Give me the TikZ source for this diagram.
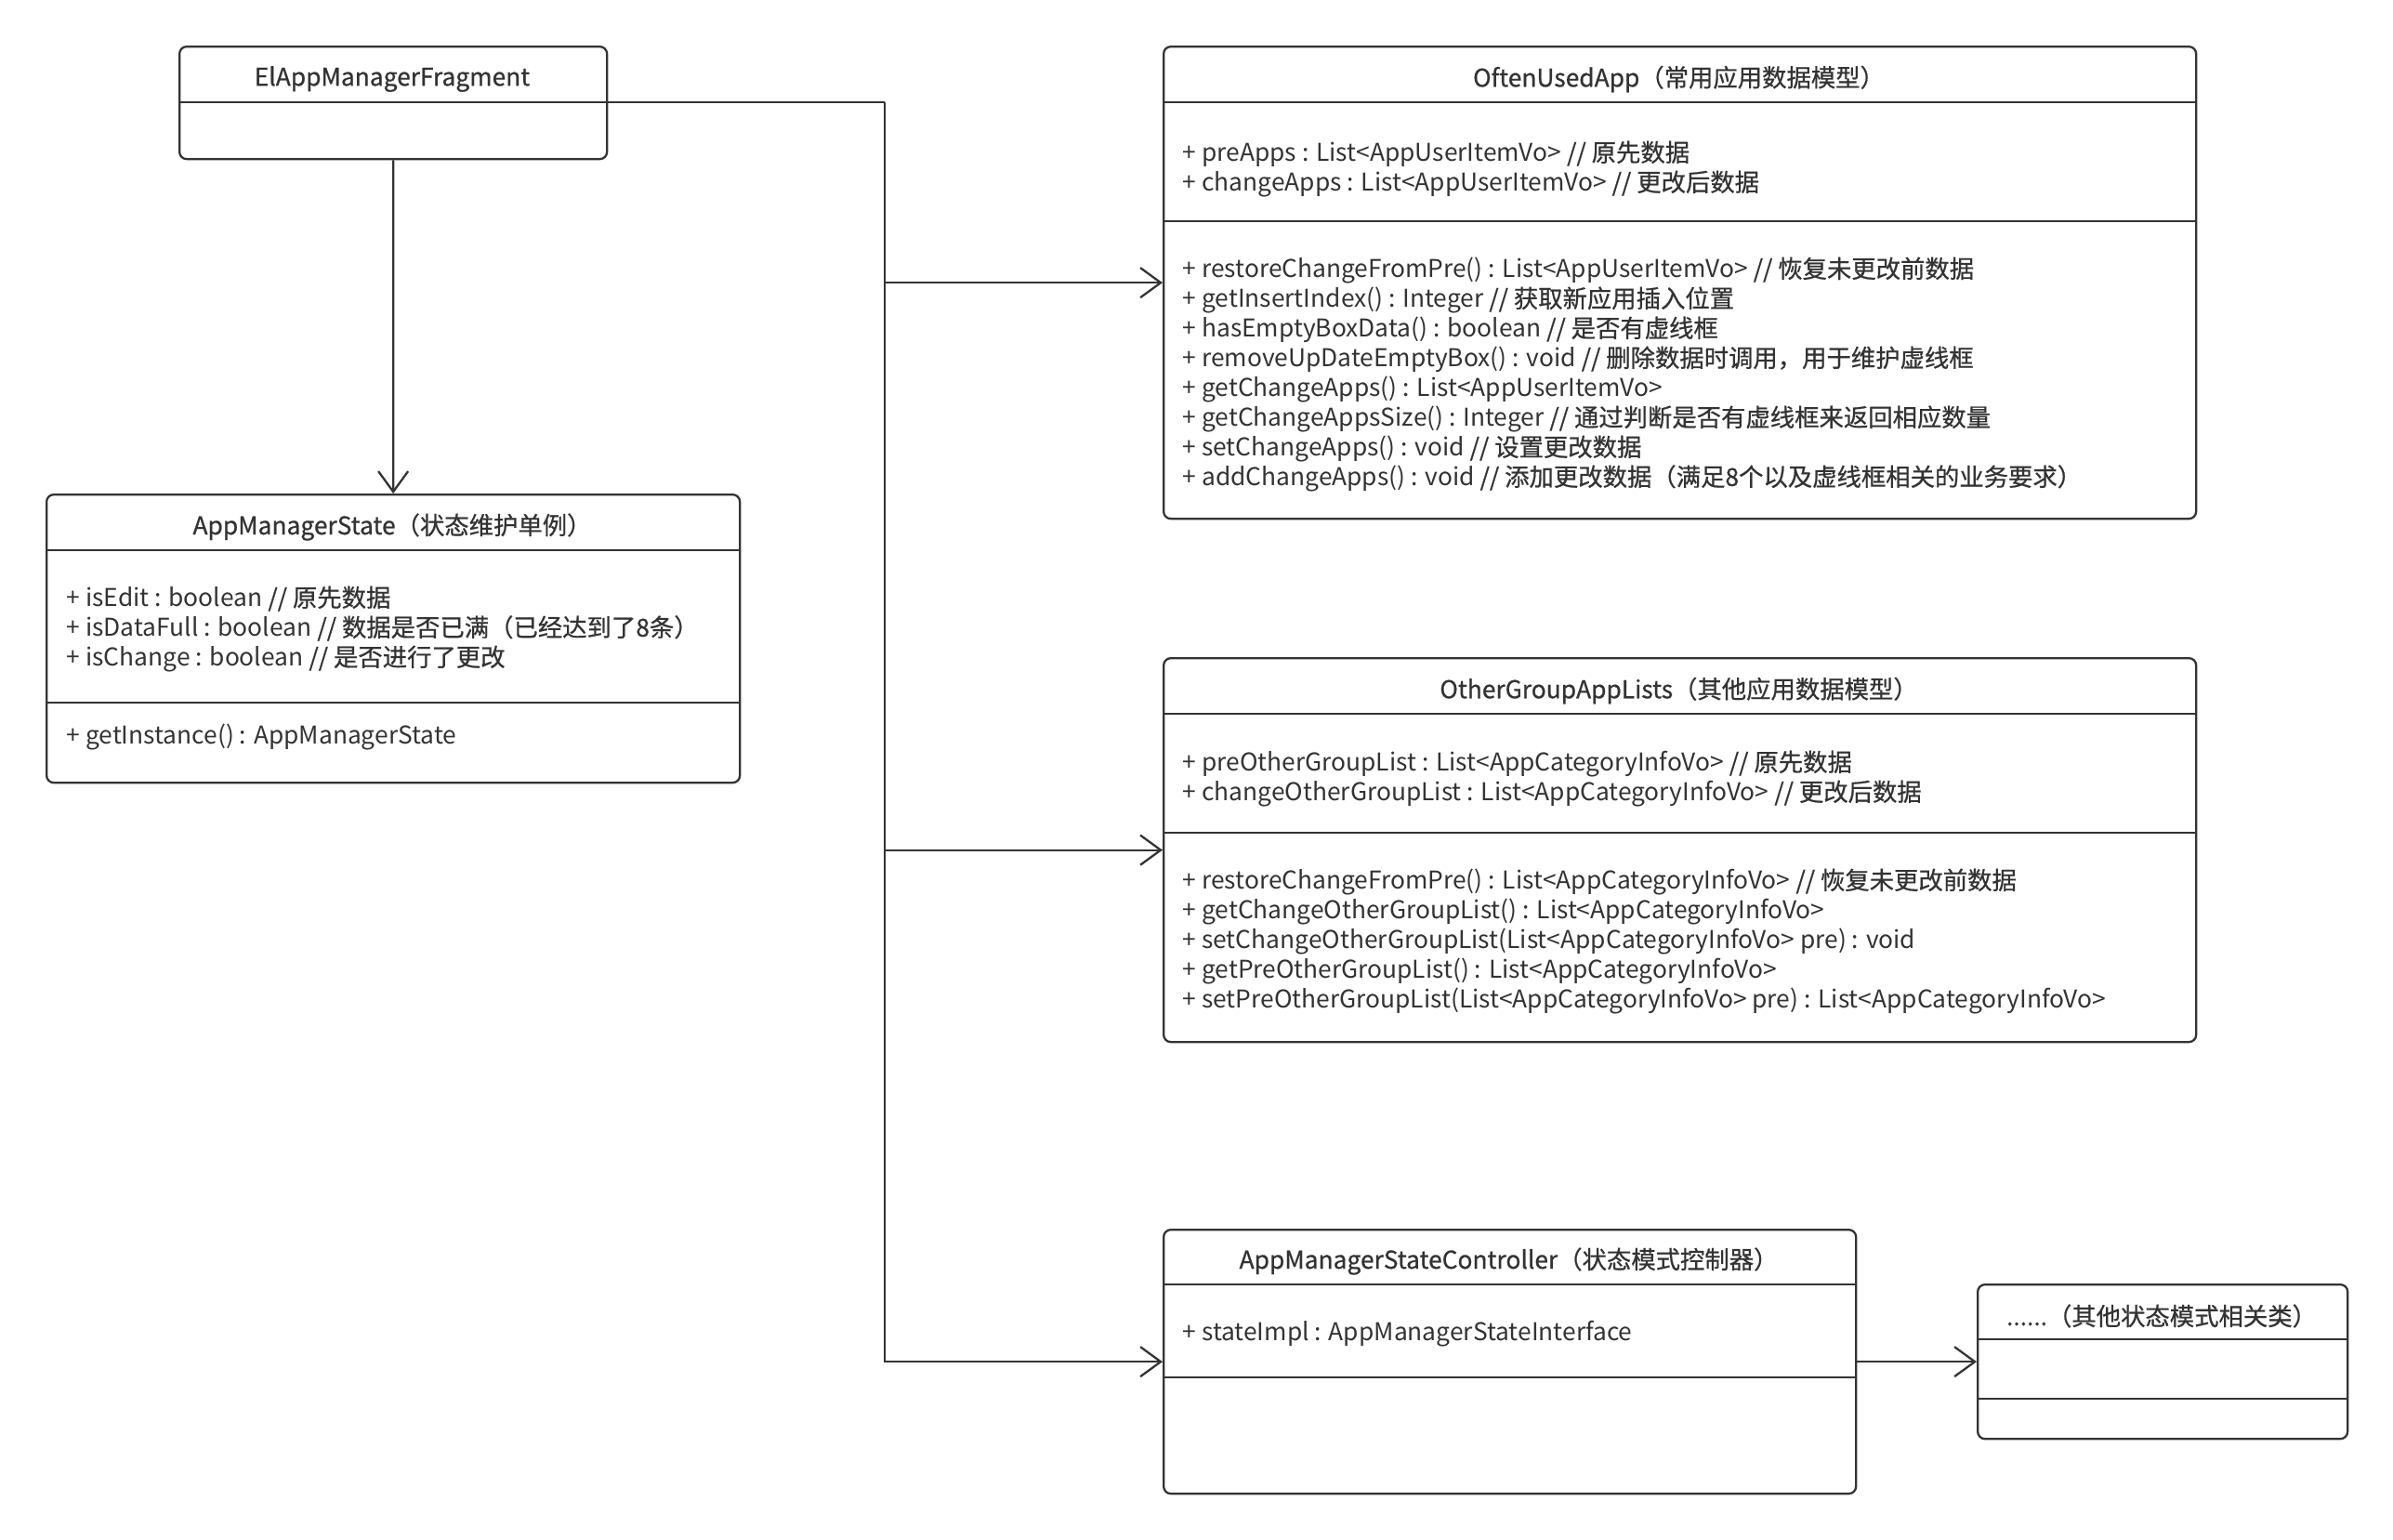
\documentclass[tikz,border=0pt]{standalone}
\usepackage{fontspec}
\setmainfont{Noto Sans CJK SC}
\newfontfamily\zhfont[FakeBold=0.7]{Noto Sans CJK SC}
\newcommand{\cmt}[1]{{\zhfont #1}}
\usetikzlibrary{arrows.meta,positioning}
\definecolor{umlline}{HTML}{333333}

\begin{document}
\begin{tikzpicture}[
    classbox/.style={draw=umlline, line width=0.65pt, rounded corners=2.2pt, anchor=north west, inner sep=0pt},
    title/.style={text=umlline, font=\fontsize{7.5}{9.1}\selectfont\zhfont, inner sep=0pt},
    member/.style={text=umlline, font=\fontsize{7.5}{9.1}\selectfont, anchor=west, align=left, inner sep=0pt},
    sep/.style={draw=umlline, line width=0.65pt},
    assoc/.style={draw=umlline, line width=0.65pt, -{Straight Barb[length=2.2mm,width=3.2mm]}}
]
    \useasboundingbox (0,0) rectangle (25.75,-16.56);

    % classes
    \node[classbox, minimum width=4.60cm, minimum height=1.21cm] (frag) at (1.92,-0.49) {};
    \node[classbox, minimum width=7.46cm, minimum height=3.10cm] (state) at (0.49,-5.31) {};
    \node[classbox, minimum width=11.11cm, minimum height=5.08cm] (often) at (12.51,-0.49) {};
    \node[classbox, minimum width=11.11cm, minimum height=4.13cm] (other) at (12.51,-7.07) {};
    \node[classbox, minimum width=7.45cm, minimum height=2.84cm] (ctrl) at (12.51,-13.22) {};
    \node[classbox, minimum width=3.98cm, minimum height=1.66cm] (more) at (21.27,-13.81) {};

    % compartments
    \draw[sep] (frag.west |- 0,-1.10) -- (frag.east |- 0,-1.10);
    \draw[sep] (state.west |- 0,-5.92) -- (state.east |- 0,-5.92);
    \draw[sep] (state.west |- 0,-7.56) -- (state.east |- 0,-7.56);
    \draw[sep] (often.west |- 0,-1.10) -- (often.east |- 0,-1.10);
    \draw[sep] (often.west |- 0,-2.38) -- (often.east |- 0,-2.38);
    \draw[sep] (other.west |- 0,-7.68) -- (other.east |- 0,-7.68);
    \draw[sep] (other.west |- 0,-8.96) -- (other.east |- 0,-8.96);
    \draw[sep] (ctrl.west |- 0,-13.82) -- (ctrl.east |- 0,-13.82);
    \draw[sep] (ctrl.west |- 0,-14.82) -- (ctrl.east |- 0,-14.82);
    \draw[sep] (more.west |- 0,-14.41) -- (more.east |- 0,-14.41);
    \draw[sep] (more.west |- 0,-15.05) -- (more.east |- 0,-15.05);

    % names
    \node[title] (fragname) at (4.22,-0.85) {ElAppManagerFragment};
    \node[title] (statename) at (4.22,-5.67) {AppManagerState（状态维护单例）};
    \node[title] (oftenname) at (18.065,-0.85) {OftenUsedApp（常用应用数据模型）};
    \node[title] (othername) at (18.065,-7.43) {OtherGroupAppLists（其他应用数据模型）};
    \node[title] (ctrlname) at (16.235,-13.57) {AppManagerStateController（状态模式控制器）};
    \node[title] (morename) at (23.26,-14.16) {......（其他状态模式相关类）};

    % members
    \node[member] (stateattr) at (0.71,-6.77) {+ isEdit : boolean \cmt{// 原先数据}\\
        + isDataFull : boolean \cmt{// 数据是否已满（已经达到了8条）}\\
        + isChange : boolean \cmt{// 是否进行了更改}};
    \node[member] (stateop) at (0.71,-7.93) {+ getInstance() : AppManagerState};
    \node[member] (oftenattr) at (12.72,-1.82) {+ preApps : List<AppUserItemVo> \cmt{// 原先数据}\\
        + changeApps : List<AppUserItemVo> \cmt{// 更改后数据}};
    \node[member] (oftenop) at (12.72,-4.03) {+ restoreChangeFromPre() : List<AppUserItemVo> \cmt{// 恢复未更改前数据}\\
        + getInsertIndex() : Integer \cmt{// 获取新应用插入位置}\\
        + hasEmptyBoxData() : boolean \cmt{// 是否有虚线框}\\
        + removeUpDateEmptyBox() : void \cmt{// 删除数据时调用，用于维护虚线框}\\
        + getChangeApps() : List<AppUserItemVo>\\
        + getChangeAppsSize() : Integer \cmt{// 通过判断是否有虚线框来返回相应数量}\\
        + setChangeApps() : void \cmt{// 设置更改数据}\\
        + addChangeApps() : void \cmt{// 添加更改数据（满足8个以及虚线框相关的业务要求）}};
    \node[member] (otherattr) at (12.72,-8.38) {+ preOtherGroupList : List<AppCategoryInfoVo> \cmt{// 原先数据}\\
        + changeOtherGroupList : List<AppCategoryInfoVo> \cmt{// 更改后数据}};
    \node[member] (otherop) at (12.72,-10.13) {+ restoreChangeFromPre() : List<AppCategoryInfoVo> \cmt{// 恢复未更改前数据}\\
        + getChangeOtherGroupList() : List<AppCategoryInfoVo>\\
        + setChangeOtherGroupList(List<AppCategoryInfoVo> pre) : void\\
        + getPreOtherGroupList() : List<AppCategoryInfoVo>\\
        + setPreOtherGroupList(List<AppCategoryInfoVo> pre) : List<AppCategoryInfoVo>};
    \node[member] (ctrlattr) at (12.72,-14.35) {+ stateImpl : AppManagerStateInterface};

    % associations
    \coordinate (split) at (9.52,-1.10);
    \draw[sep] (frag.east |- split) -- (split);
    \draw[assoc] (split) |- (often.west);
    \draw[assoc] (split) |- (other.west);
    \draw[assoc] (split) |- (ctrl.west);
    \draw[assoc] (frag.south) -- (state.north);
    \draw[assoc] (ctrl.east) -- (more.west);
\end{tikzpicture}
\end{document}
